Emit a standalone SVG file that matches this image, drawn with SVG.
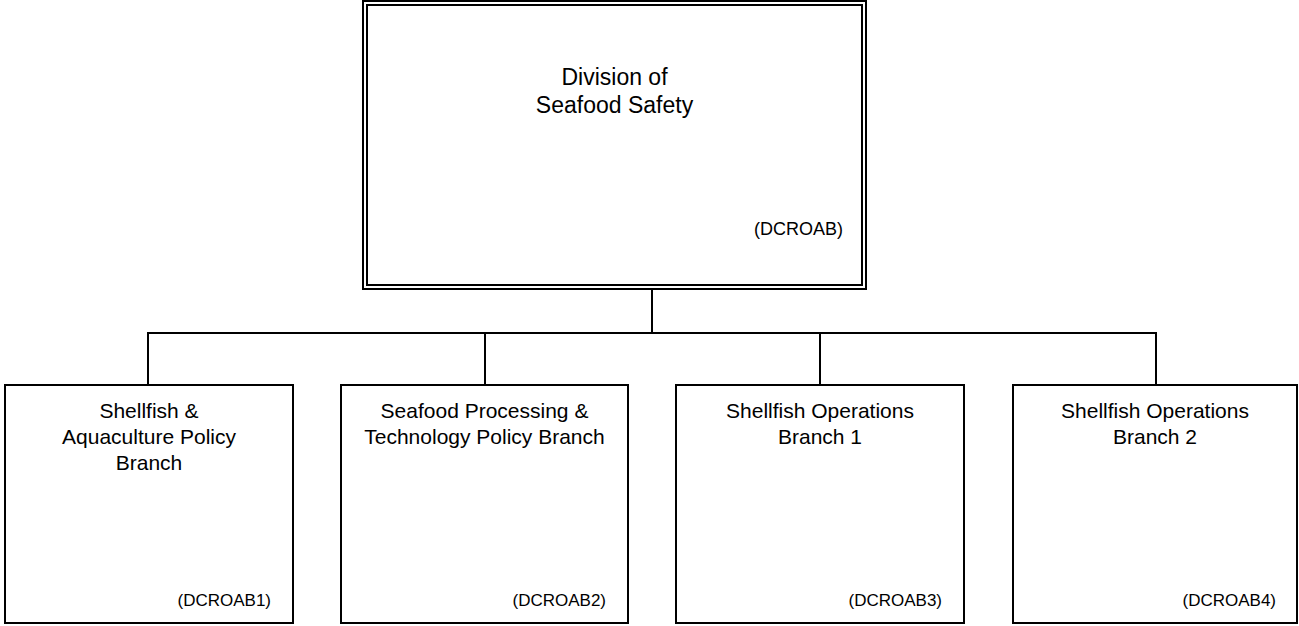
<svg xmlns="http://www.w3.org/2000/svg" width="1299" height="626" viewBox="0 0 1299 626">
<style>
.box{fill:#fff;stroke:#000;stroke-width:2}
.ln{fill:none;stroke:#000;stroke-width:2}
.t{font-family:"Liberation Sans",Arial,sans-serif;fill:#000}
.title{font-size:23px;text-anchor:middle}
.lab{font-size:21px;text-anchor:middle}
.code{font-size:17px;text-anchor:end}
.codeTop{font-size:18px;text-anchor:end}
</style>
<rect width="1299" height="626" fill="#fff"/>
<g id="connectors">
<path class="ln" d="M652,289 V333 M148,385 V333 H1156 V385 M485,333 V385 M820,333 V385"/>
</g>
<g id="division">
<rect class="box" x="363" y="1" width="503" height="288"/>
<rect class="box" x="367" y="5" width="495" height="280"/>
<text class="t title" x="614.5" y="85">Division of</text>
<text class="t title" x="614.5" y="113">Seafood Safety</text>
<text class="t codeTop" x="843" y="235">(DCROAB)</text>
</g>
<g id="branch1">
<rect class="box" x="5" y="385" width="288" height="238"/>
<text class="t lab" x="149" y="418">Shellfish &amp;</text>
<text class="t lab" x="149" y="444">Aquaculture Policy</text>
<text class="t lab" x="149" y="470">Branch</text>
<text class="t code" x="271" y="606">(DCROAB1)</text>
</g>
<g id="branch2">
<rect class="box" x="341" y="385" width="287" height="238"/>
<text class="t lab" x="484.5" y="418">Seafood Processing &amp;</text>
<text class="t lab" x="484.5" y="444">Technology Policy Branch</text>
<text class="t code" x="606" y="606">(DCROAB2)</text>
</g>
<g id="branch3">
<rect class="box" x="676" y="385" width="288" height="238"/>
<text class="t lab" x="820" y="418">Shellfish Operations</text>
<text class="t lab" x="820" y="444">Branch 1</text>
<text class="t code" x="942" y="606">(DCROAB3)</text>
</g>
<g id="branch4">
<rect class="box" x="1013" y="385" width="284" height="238"/>
<text class="t lab" x="1155" y="418">Shellfish Operations</text>
<text class="t lab" x="1155" y="444">Branch 2</text>
<text class="t code" x="1276" y="606">(DCROAB4)</text>
</g>
</svg>
